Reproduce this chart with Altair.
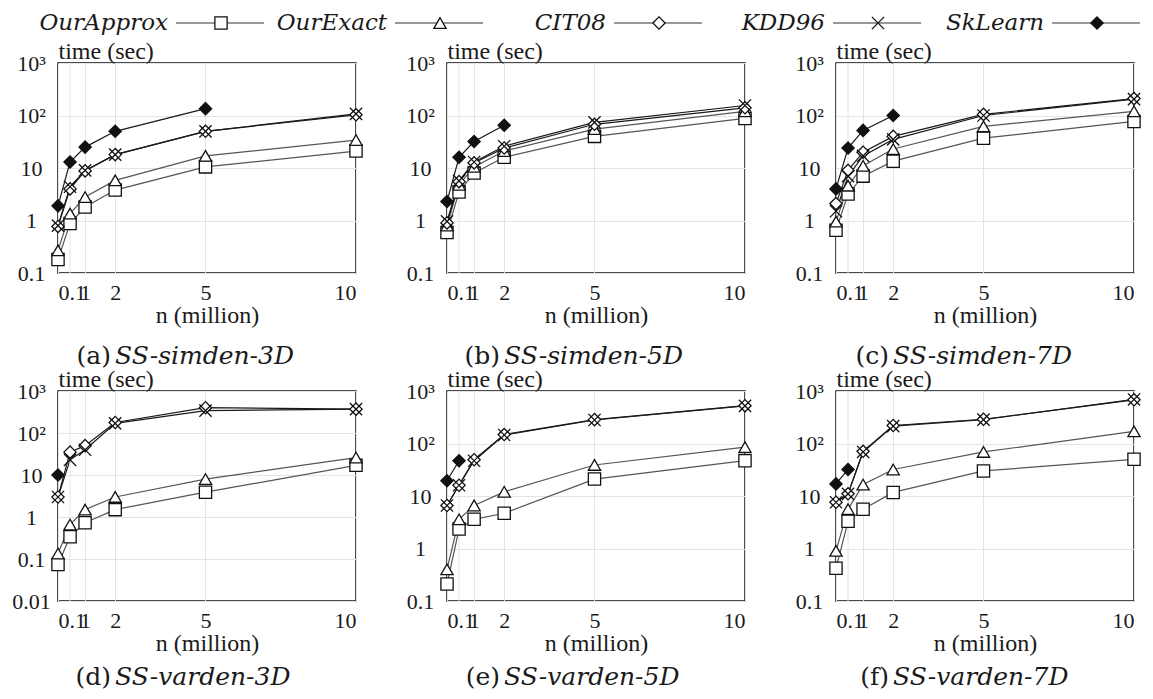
import altair as alt
import pandas as pd

# ---------------- data ----------------
n_million = [0.1, 0.5, 1, 2, 5, 10]
series_names = ["OurApprox", "OurExact", "CIT08", "KDD96", "SkLearn"]
x_label_values = [0.1, 1, 2, 5, 10]
x_extra_grid = [0.5]
y_tick_values = [0.01, 0.1, 1, 10, 100, 1000]

# (a) SS-simden-3D
simden3d_ourapprox = [0.18, 0.88, 1.8, 3.8, 10.5, 21]
simden3d_ourexact = [0.27, 1.35, 2.8, 5.8, 17, 34]
simden3d_cit08 = [0.77, 4.0, 8.8, 18, 50, 103]
simden3d_kdd96 = [0.8, 4.4, 9.0, 18, 50, 107]
simden3d_sklearn = [1.9, 13, 25, 50, 135]

# (b) SS-simden-5D
simden5d_ourapprox = [0.59, 3.5, 8.0, 16, 40, 88]
simden5d_ourexact = [0.8, 4.8, 10.5, 21, 55, 120]
simden5d_cit08 = [0.9, 5.5, 12.5, 24, 68, 140]
simden5d_kdd96 = [0.96, 5.7, 13, 26, 74, 155]
simden5d_sklearn = [2.3, 16, 32, 65]

# (c) SS-simden-7D
simden7d_ourapprox = [0.65, 3.2, 7.0, 13.5, 37, 77]
simden7d_ourexact = [0.95, 4.6, 11, 23, 62, 120]
simden7d_cit08 = [2.1, 9.0, 20, 40, 105, 210]
simden7d_kdd96 = [1.5, 7.0, 17, 35, 100, 205]
simden7d_sklearn = [4.0, 24, 52, 100]

# (d) SS-varden-3D
varden3d_ourapprox = [0.074, 0.34, 0.73, 1.5, 3.9, 17]
varden3d_ourexact = [0.135, 0.66, 1.5, 3.0, 8.0, 26]
varden3d_cit08 = [3.0, 35, 50, 178, 400, 370]
varden3d_kdd96 = [3.0, 23, 40, 170, 340, 370]
varden3d_sklearn = [10]

# (e) SS-varden-5D
varden5d_ourapprox = [0.21, 2.35, 3.6, 4.7, 21, 47]
varden5d_ourexact = [0.4, 3.6, 6.6, 12, 39, 85]
varden5d_cit08 = [6.6, 16, 49, 148, 285, 525]
varden5d_kdd96 = [6.6, 16, 47, 145, 280, 520]
varden5d_sklearn = [19.5, 47]

# (f) SS-varden-7D
varden7d_ourapprox = [0.42, 3.3, 5.6, 11.7, 30, 50]
varden7d_ourexact = [0.9, 5.6, 16.5, 32, 69, 170]
varden7d_cit08 = [7.6, 11, 71, 220, 290, 680]
varden7d_kdd96 = [7.6, 11, 69, 215, 285, 690]
varden7d_sklearn = [17, 32]

# ---------------- styles ----------------
line_colors = ["#555555", "#555555", "#1a1a1a", "#1a1a1a", "#1a1a1a"]
shape_range = ["square", "triangle-up", "diamond", "M-1,-1L1,1M-1,1L1,-1", "diamond"]
fill_range = ["white", "white", "white", "white", "#111111"]

AX_FONT = "Liberation Serif, Tinos, Times New Roman, Times, DejaVu Serif, serif"
CAP_FONT = "DejaVu Serif"
TXT = "#1a1a1a"
GRID = "#e4e4e4"

color_scale = alt.Scale(domain=series_names, range=line_colors)
shape_scale = alt.Scale(domain=series_names, range=shape_range)
fill_scale = alt.Scale(domain=series_names, range=fill_range)

PW, PH = 298, 210
MARK_SIZE = 150


def make_df(series_values):
    rows = []
    for name, vals in zip(series_names, series_values):
        for n, v in zip(n_million, vals):
            rows.append({"series": name, "n": n, "time": v})
    return pd.DataFrame(rows)


Y_LABELS = ("datum.value >= 999 ? '10\u00b3' : datum.value >= 99 ? '10\u00b2' : "
            "datum.value >= 9 ? '10' : datum.value >= 0.9 ? '1' : "
            "datum.value >= 0.09 ? '0.1' : '0.01'")
X_LABELS = "datum.value < 0.5 ? '0.1' : format(datum.value, 'd')"


def legend_layer():
    legend_df = pd.DataFrame({"series": series_names, "idx": list(range(len(series_names)))})
    lx = alt.X("idx:Q", scale=alt.Scale(domain=[-0.5388, 0.8219], nice=False, zero=False), axis=None)
    ly = alt.value(-40)
    leg_rule = alt.Chart(legend_df).mark_rule(x2Offset=88, color="#333333", strokeWidth=1.2).encode(
        x=lx, x2=alt.X2("idx:Q"), y=ly
    )
    leg_pts = alt.Chart(legend_df).mark_point(
        filled=True, size=MARK_SIZE, stroke="#111111", strokeWidth=1.3, opacity=1, xOffset=45
    ).encode(
        x=lx, y=ly,
        shape=alt.Shape("series:N", scale=shape_scale, legend=None),
        fill=alt.Fill("series:N", scale=fill_scale, legend=None),
    )
    leg_text = alt.Chart(legend_df).mark_text(
        align="right", baseline="middle", dx=-8, font=CAP_FONT, fontStyle="italic",
        fontSize=23, color=TXT
    ).encode(x=lx, y=ly, text="series:N")
    return alt.layer(leg_rule, leg_pts, leg_text)


def panel(series_values, ymin, letter, name, cap_offset, with_legend=False):
    df = make_df(series_values)
    x = alt.X("n:Q",
              scale=alt.Scale(domain=[0.1, 10], nice=False, zero=False),
              axis=alt.Axis(values=x_label_values, labelExpr=X_LABELS,
                            title="n (million)", labelOverlap=False,
                            labelFont=AX_FONT, titleFont=AX_FONT,
                            labelFontSize=22, titleFontSize=24,
                            labelPadding=9, titlePadding=0))
    y = alt.Y("time:Q",
              scale=alt.Scale(type="log", domain=[ymin, 1000], nice=False),
              axis=alt.Axis(values=[v for v in y_tick_values if v >= ymin],
                            labelExpr=Y_LABELS,
                            labelFont=AX_FONT, titleFont=AX_FONT,
                            labelFontSize=22, titleFontSize=24,
                            labelAlign="center", labelBaseline="middle",
                            labelPadding=27, labelOverlap=False,
                            title="time (sec)", titleAngle=0, titleAlign="left",
                            titleX=0, titleY=-5, titleBaseline="alphabetic"))
    grid_extra = alt.Chart(pd.DataFrame({"n": x_extra_grid})).mark_rule(
        color=GRID, strokeWidth=1
    ).encode(x=alt.X("n:Q"))
    base = alt.Chart(df)
    lines = base.mark_line(strokeWidth=1.2).encode(
        x=x, y=y,
        color=alt.Color("series:N", scale=color_scale, legend=None),
    )
    points = base.mark_point(filled=True, size=MARK_SIZE, stroke="#111111",
                             strokeWidth=1.3, opacity=1).encode(
        x=x, y=y,
        shape=alt.Shape("series:N", scale=shape_scale, legend=None),
        fill=alt.Fill("series:N", scale=fill_scale, legend=None),
    )
    cap_df = pd.DataFrame({"letter": [f"({letter})"], "name": [name]})
    cap1 = alt.Chart(cap_df).mark_text(
        align="right", baseline="middle", font=CAP_FONT, fontSize=25, color=TXT
    ).encode(x=alt.value(53), y=alt.value(PH + cap_offset), text="letter:N")
    cap2 = alt.Chart(cap_df).mark_text(
        align="left", baseline="middle", font=CAP_FONT, fontStyle="italic",
        fontSize=25, color=TXT
    ).encode(x=alt.value(57), y=alt.value(PH + cap_offset), text="name:N")
    main = alt.layer(lines, grid_extra, points, cap1, cap2)
    if with_legend:
        return alt.layer(main, legend_layer()).resolve_scale(x="independent").properties(width=PW, height=PH)
    return main.properties(width=PW, height=PH)


pa = panel([simden3d_ourapprox, simden3d_ourexact, simden3d_cit08, simden3d_kdd96, simden3d_sklearn], 0.1, "a", "SS-simden-3D", 83, with_legend=True)
pb = panel([simden5d_ourapprox, simden5d_ourexact, simden5d_cit08, simden5d_kdd96, simden5d_sklearn], 0.1, "b", "SS-simden-5D", 83)
pc = panel([simden7d_ourapprox, simden7d_ourexact, simden7d_cit08, simden7d_kdd96, simden7d_sklearn], 0.1, "c", "SS-simden-7D", 83)
pd_ = panel([varden3d_ourapprox, varden3d_ourexact, varden3d_cit08, varden3d_kdd96, varden3d_sklearn], 0.01, "d", "SS-varden-3D", 76)
pe = panel([varden5d_ourapprox, varden5d_ourexact, varden5d_cit08, varden5d_kdd96, varden5d_sklearn], 0.1, "e", "SS-varden-5D", 76)
pf = panel([varden7d_ourapprox, varden7d_ourexact, varden7d_cit08, varden7d_kdd96, varden7d_sklearn], 0.1, "f", "SS-varden-7D", 76)

chart = alt.concat(
    pa, pb, pc, pd_, pe, pf, columns=3, bounds="flush",
    spacing=alt.RowColnumber(row=118, column=91),
).properties(
    padding={"left": 3, "top": 3, "right": 0, "bottom": 0}
).configure_view(
    stroke="#111111", strokeWidth=1.5
).configure_axis(
    labelFont=AX_FONT, titleFont=AX_FONT, labelFontSize=22, titleFontSize=24,
    labelColor=TXT, titleColor=TXT, titleFontWeight="normal",
    ticks=False, tickSize=0, domain=False,
    grid=True, gridColor=GRID, gridWidth=1,
)

chart.save("out.html", embed_options={"renderer": "svg", "actions": False})
